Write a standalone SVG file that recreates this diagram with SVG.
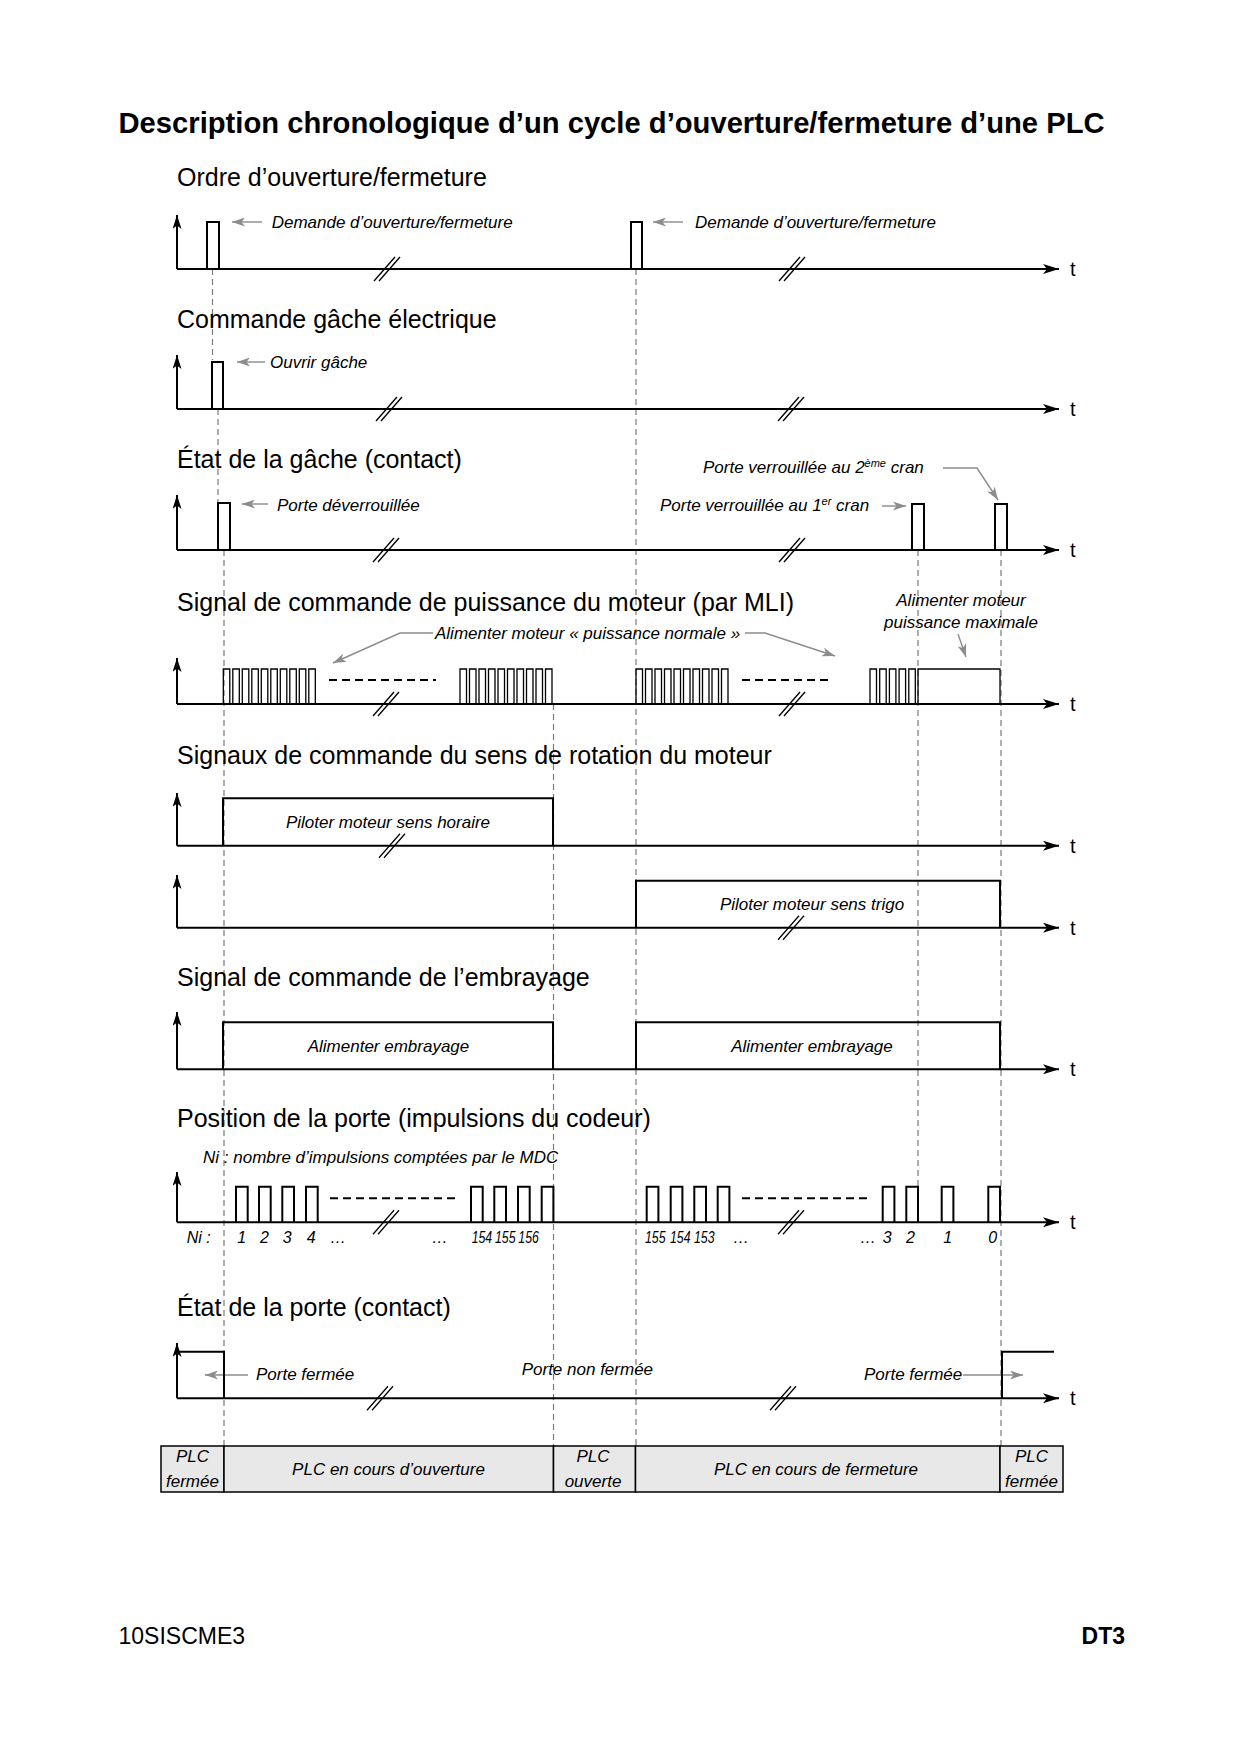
<svg xmlns="http://www.w3.org/2000/svg" xmlns:xlink="http://www.w3.org/1999/xlink" width="1240" height="1754" viewBox="0 0 1240 1754">
<style>
text{font-family:"Liberation Sans",Arial,sans-serif;fill:#000}
.ttl{font-size:29.2px;font-weight:bold}
.sec{font-size:25px}
.lbl{font-size:17px;font-style:italic}
.num{font-size:16px;font-style:italic}
.tt{font-size:20px}
.foot{font-size:23px}
.ax{stroke:#000;stroke-width:2;fill:none}
.sig{stroke:#000;stroke-width:2;fill:none}
.pwm{stroke:#000;stroke-width:1.3;fill:none}
.dv{stroke:#7a7a7a;stroke-width:1.2;stroke-dasharray:6 4;fill:none}
.dh{stroke:#000;stroke-width:2;stroke-dasharray:8 5;fill:none}
.ga{stroke:#8c8c8c;stroke-width:1.4;fill:none;marker-end:url(#mg)}
.brk line{stroke:#000;stroke-width:1.3}
.cell{fill:#e8e8e8;stroke:#000;stroke-width:1.5}
</style>
<defs>
<marker id="mh" markerUnits="userSpaceOnUse" markerWidth="16" markerHeight="10" refX="16" refY="5" orient="auto" viewBox="0 0 16 10"><path d="M0,0 L16,5 L0,10 L4,5 z" fill="#000"/></marker>
<marker id="mv" markerUnits="userSpaceOnUse" markerWidth="14" markerHeight="9" refX="14" refY="4.5" orient="auto" viewBox="0 0 14 9"><path d="M0,0 L14,4.5 L0,9 L3.5,4.5 z" fill="#000"/></marker>
<marker id="mg" markerUnits="userSpaceOnUse" markerWidth="13" markerHeight="9" refX="13" refY="4.5" orient="auto" viewBox="0 0 13 9"><path d="M0,0 L13,4.5 L0,9 L3.5,4.5 z" fill="#8c8c8c"/></marker>
<g id="brk" class="brk"><line x1="-13" y1="12" x2="8" y2="-12"/><line x1="-8" y1="12" x2="13" y2="-12"/></g>
</defs>
<rect x="0" y="0" width="1240" height="1754" fill="#fff"/>

<text class="ttl" x="118.5" y="133">Description chronologique d’un cycle d’ouverture/fermeture d’une PLC</text>

<g id="connectors">
<path class="dv" d="M212.5,269V360"/>
<path class="dv" d="M218,409V503"/>
<path class="dv" d="M224,550V1446"/>
<path class="dv" d="M553.5,704V1446"/>
<path class="dv" d="M636,269V1446"/>
<path class="dv" d="M918,550V1186"/>
<path class="dv" d="M1001,550V1446"/>
<path class="ga" d="M262,222H232"/>
<path class="ga" d="M683,222H653"/>
<path class="ga" d="M265,362H237"/>
<path class="ga" d="M268,504H242"/>
<path class="ga" d="M882,506H906"/>
<path class="ga" d="M943,468H977L998,500"/>
<path class="ga" d="M433,633H400L333,663"/>
<path class="ga" d="M745,633H765L835,656"/>
<path class="ga" d="M958,634L966,657"/>
<path class="ga" d="M248,1375H205"/>
<path class="ga" d="M963,1375H1023"/>
</g>

<g id="row1">
<text class="sec" x="177" y="186">Ordre d’ouverture/fermeture</text>
<line class="ax" x1="177" y1="269" x2="177" y2="215" marker-end="url(#mv)"/>
<line class="ax" x1="177" y1="269" x2="1059" y2="269" marker-end="url(#mh)"/>
<text class="tt" x="1070" y="276">t</text>
<path class="sig" d="M207,269V222H219V269M631,269V222H642V269"/>
<use xlink:href="#brk" x="387" y="269"/>
<use xlink:href="#brk" x="792" y="269"/>
<text class="lbl" x="271.7" y="228">Demande d’ouverture/fermeture</text>
<text class="lbl" x="695" y="228">Demande d’ouverture/fermeture</text>
</g>

<g id="row2">
<text class="sec" x="177" y="328">Commande gâche électrique</text>
<line class="ax" x1="177" y1="409" x2="177" y2="355" marker-end="url(#mv)"/>
<line class="ax" x1="177" y1="409" x2="1059" y2="409" marker-end="url(#mh)"/>
<text class="tt" x="1070" y="416">t</text>
<path class="sig" d="M212,409V362H223V409"/>
<use xlink:href="#brk" x="389" y="409"/>
<use xlink:href="#brk" x="791" y="409"/>
<text class="lbl" x="270" y="368">Ouvrir gâche</text>
</g>

<g id="row3">
<text class="sec" x="177" y="468">État de la gâche (contact)</text>
<line class="ax" x1="177" y1="550" x2="177" y2="495" marker-end="url(#mv)"/>
<line class="ax" x1="177" y1="550" x2="1059" y2="550" marker-end="url(#mh)"/>
<text class="tt" x="1070" y="557">t</text>
<path class="sig" d="M218,550V503H230V550M912,550V504H924V550M995,550V504H1007V550"/>
<use xlink:href="#brk" x="386" y="550"/>
<use xlink:href="#brk" x="792" y="550"/>
<text class="lbl" x="277" y="511">Porte déverrouillée</text>
<text class="lbl" x="703" y="473">Porte verrouillée au 2<tspan font-size="11" dy="-6">ème</tspan><tspan dy="6"> cran</tspan></text>
<text class="lbl" x="660" y="511">Porte verrouillée au 1<tspan font-size="11" dy="-6">er</tspan><tspan dy="6"> cran</tspan></text>
</g>

<g id="row4">
<text class="sec" x="177" y="611">Signal de commande de puissance du moteur (par MLI)</text>
<line class="ax" x1="177" y1="704" x2="177" y2="658" marker-end="url(#mv)"/>
<line class="ax" x1="177" y1="704" x2="1059" y2="704" marker-end="url(#mh)"/>
<text class="tt" x="1070" y="711">t</text>
<path class="pwm" d="M223.3,704V669h6.5V704M232.8,704V669h6.5V704M242.3,704V669h6.5V704M251.8,704V669h6.5V704M261.3,704V669h6.5V704M270.8,704V669h6.5V704M280.3,704V669h6.5V704M289.8,704V669h6.5V704M299.3,704V669h6.5V704M308.8,704V669h6.5V704"/>
<path class="pwm" d="M460,704V669h6.5V704M469.5,704V669h6.5V704M479,704V669h6.5V704M488.5,704V669h6.5V704M498,704V669h6.5V704M507.5,704V669h6.5V704M517,704V669h6.5V704M526.5,704V669h6.5V704M536,704V669h6.5V704M545.5,704V669h6.5V704"/>
<path class="pwm" d="M636,704V669h6.5V704M645.5,704V669h6.5V704M655,704V669h6.5V704M664.5,704V669h6.5V704M674,704V669h6.5V704M683.5,704V669h6.5V704M693,704V669h6.5V704M702.5,704V669h6.5V704M712,704V669h6.5V704M721.5,704V669h6.5V704"/>
<path class="pwm" d="M870,704V669h6.5V704M879.7,704V669h6.5V704M889.4,704V669h6.5V704M899.1,704V669h6.5V704M908.8,704V669h6.5V704"/>
<path class="pwm" d="M918,704V669H1000V704"/>
<line class="dh" x1="329" y1="680" x2="436" y2="680"/>
<line class="dh" x1="742" y1="680" x2="833" y2="680"/>
<use xlink:href="#brk" x="386" y="704"/>
<use xlink:href="#brk" x="792" y="704"/>
<text class="lbl" x="435" y="639">Alimenter moteur « puissance normale »</text>
<text class="lbl" x="961" y="606" text-anchor="middle">Alimenter moteur</text>
<text class="lbl" x="961" y="628" text-anchor="middle">puissance maximale</text>
</g>

<g id="row5">
<text class="sec" x="177" y="764">Signaux de commande du sens de rotation du moteur</text>
<line class="ax" x1="177" y1="845.7" x2="177" y2="793" marker-end="url(#mv)"/>
<line class="ax" x1="177" y1="845.7" x2="1059" y2="845.7" marker-end="url(#mh)"/>
<text class="tt" x="1070" y="853">t</text>
<path class="sig" d="M223,845.7V798.3H553V845.7"/>
<use xlink:href="#brk" x="392" y="845.7"/>
<text class="lbl" x="388" y="828" text-anchor="middle">Piloter moteur sens horaire</text>
<line class="ax" x1="177" y1="927.7" x2="177" y2="875" marker-end="url(#mv)"/>
<line class="ax" x1="177" y1="927.7" x2="1059" y2="927.7" marker-end="url(#mh)"/>
<text class="tt" x="1070" y="935">t</text>
<path class="sig" d="M636,927.7V880.7H1000V927.7"/>
<use xlink:href="#brk" x="791" y="927.7"/>
<text class="lbl" x="812" y="910" text-anchor="middle">Piloter moteur sens trigo</text>
</g>

<g id="row6">
<text class="sec" x="177" y="986">Signal de commande de l’embrayage</text>
<line class="ax" x1="177" y1="1069.3" x2="177" y2="1012" marker-end="url(#mv)"/>
<line class="ax" x1="177" y1="1069.3" x2="1059" y2="1069.3" marker-end="url(#mh)"/>
<text class="tt" x="1070" y="1076">t</text>
<path class="sig" d="M223,1069.3V1022.3H553V1069.3M636,1069.3V1022.3H1000V1069.3"/>
<text class="lbl" x="388.5" y="1051.7" text-anchor="middle">Alimenter embrayage</text>
<text class="lbl" x="812" y="1051.7" text-anchor="middle">Alimenter embrayage</text>
</g>

<g id="row7">
<text class="sec" x="177" y="1127">Position de la porte (impulsions du codeur)</text>
<text class="lbl" x="203" y="1163">Ni : nombre d’impulsions comptées par le MDC</text>
<line class="ax" x1="177" y1="1222.3" x2="177" y2="1172" marker-end="url(#mv)"/>
<line class="ax" x1="177" y1="1222.3" x2="1059" y2="1222.3" marker-end="url(#mh)"/>
<text class="tt" x="1070" y="1229">t</text>
<path class="sig" d="M236,1222.3V1186.7h11.7V1222.3M259,1222.3V1186.7h11.7V1222.3M282.3,1222.3V1186.7h11.7V1222.3M306,1222.3V1186.7h11.7V1222.3M471,1222.3V1186.7h11.7V1222.3M494.3,1222.3V1186.7h11.7V1222.3M518,1222.3V1186.7h11.7V1222.3M541.7,1222.3V1186.7h11.7V1222.3M646.7,1222.3V1186.7h11.7V1222.3M670.7,1222.3V1186.7h11.7V1222.3M694.3,1222.3V1186.7h11.7V1222.3M717.7,1222.3V1186.7h11.7V1222.3M882.7,1222.3V1186.7h11.7V1222.3M906.3,1222.3V1186.7h11.7V1222.3M941.7,1222.3V1186.7h11.7V1222.3M988.3,1222.3V1186.7h11.7V1222.3"/>
<line class="dh" x1="330" y1="1198.3" x2="458" y2="1198.3"/>
<line class="dh" x1="742" y1="1198.3" x2="871" y2="1198.3"/>
<use xlink:href="#brk" x="386" y="1222.3"/>
<use xlink:href="#brk" x="791" y="1222.3"/>
<text class="num" y="1243"><tspan x="186.7">Ni :</tspan><tspan x="237.3">1</tspan><tspan x="260">2</tspan><tspan x="282.7">3</tspan><tspan x="306.7">4</tspan><tspan x="330">…</tspan><tspan x="431.7">…</tspan><tspan x="733">…</tspan><tspan x="860">…</tspan><tspan x="882.7">3</tspan><tspan x="906">2</tspan><tspan x="943.3">1</tspan><tspan x="988.3">0</tspan></text>
<text class="num" x="471.7" y="1243" textLength="20.5" lengthAdjust="spacingAndGlyphs">154</text>
<text class="num" x="495" y="1243" textLength="20.5" lengthAdjust="spacingAndGlyphs">155</text>
<text class="num" x="518.3" y="1243" textLength="20.5" lengthAdjust="spacingAndGlyphs">156</text>
<text class="num" x="645" y="1243" textLength="20.5" lengthAdjust="spacingAndGlyphs">155</text>
<text class="num" x="670" y="1243" textLength="20.5" lengthAdjust="spacingAndGlyphs">154</text>
<text class="num" x="694" y="1243" textLength="20.5" lengthAdjust="spacingAndGlyphs">153</text>
</g>

<g id="row8">
<text class="sec" x="177" y="1316">État de la porte (contact)</text>
<line class="ax" x1="177" y1="1398.3" x2="177" y2="1343" marker-end="url(#mv)"/>
<line class="ax" x1="177" y1="1398.3" x2="1059" y2="1398.3" marker-end="url(#mh)"/>
<text class="tt" x="1070" y="1405">t</text>
<path class="sig" d="M177,1351.7H224V1398.3M1002,1398.3V1351.7H1054"/>
<use xlink:href="#brk" x="380" y="1398.3"/>
<use xlink:href="#brk" x="783" y="1398.3"/>
<text class="lbl" x="256" y="1380">Porte fermée</text>
<text class="lbl" x="521.7" y="1375">Porte non fermée</text>
<text class="lbl" x="864" y="1380">Porte fermée</text>
</g>

<g id="phases">
<rect class="cell" x="161" y="1446" width="63" height="46"/>
<rect class="cell" x="224" y="1446" width="329.5" height="46"/>
<rect class="cell" x="553.5" y="1446" width="82" height="46"/>
<rect class="cell" x="635.5" y="1446" width="364.5" height="46"/>
<rect class="cell" x="1000" y="1446" width="63" height="46"/>
<text class="lbl" x="192.5" y="1461.7" text-anchor="middle">PLC</text>
<text class="lbl" x="192.5" y="1486.7" text-anchor="middle">fermée</text>
<text class="lbl" x="388.5" y="1475" text-anchor="middle">PLC en cours d’ouverture</text>
<text class="lbl" x="593" y="1461.7" text-anchor="middle">PLC</text>
<text class="lbl" x="593" y="1486.7" text-anchor="middle">ouverte</text>
<text class="lbl" x="816" y="1475" text-anchor="middle">PLC en cours de fermeture</text>
<text class="lbl" x="1031.5" y="1461.7" text-anchor="middle">PLC</text>
<text class="lbl" x="1031.5" y="1486.7" text-anchor="middle">fermée</text>
</g>

<text class="foot" x="118.5" y="1644">10SISCME3</text>
<text class="foot" x="1125" y="1644" text-anchor="end" font-weight="bold">DT3</text>
</svg>
